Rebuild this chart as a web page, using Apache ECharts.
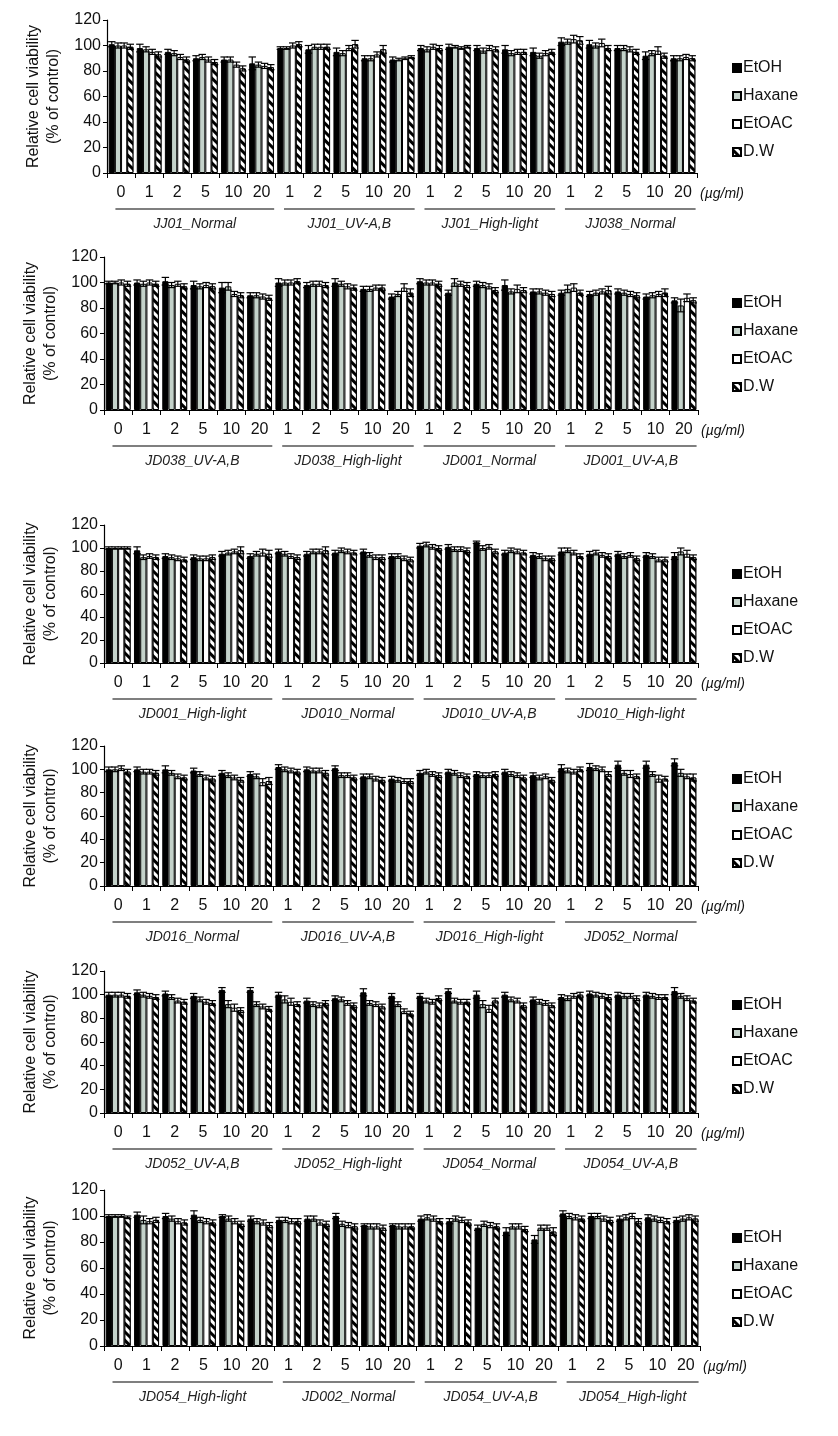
<!DOCTYPE html>
<html><head><meta charset="utf-8">
<script src="https://cdn.jsdelivr.net/npm/echarts@6/dist/echarts.min.js"></script>
<style>html,body{margin:0;padding:0;background:#fff}#c{width:838px;height:1436px}</style>
</head><body><div id="c"></div>
<script>
const doses = ['0','1','2','5','10','20','1','2','5','10','20','1','2','5','10','20','1','2','5','10','20'];
const seriesNames = ['EtOH','Haxane','EtOAC','D.W'];
const yTicks = [0,20,40,60,80,100,120];
const groupStart = [0,6,11,16];
const groupEnd = [5,10,15,20];

const groups1 = ['JJ01_Normal','JJ01_UV-A,B','JJ01_High-light','JJ038_Normal'];
const groups2 = ['JD038_UV-A,B','JD038_High-light','JD001_Normal','JD001_UV-A,B'];
const groups3 = ['JD001_High-light','JD010_Normal','JD010_UV-A,B','JD010_High-light'];
const groups4 = ['JD016_Normal','JD016_UV-A,B','JD016_High-light','JD052_Normal'];
const groups5 = ['JD052_UV-A,B','JD052_High-light','JD054_Normal','JD054_UV-A,B'];
const groups6 = ['JD054_High-light','JD002_Normal','JD054_UV-A,B','JD054_High-light'];

// Panel 1
const p1_EtOH  = [101,98,95,90,89,86, 98,97,95,90,89, 98,99,98,97,95, 103,101,98,92,90];
const p1_Hax   = [100,97,94,91,89,85, 98,99,94,90,89, 97,99,96,94,92, 103,100,98,94,90];
const p1_EtOAC = [100,95,91,89,85,84, 100,99,98,93,90, 99,98,98,95,94, 105,102,97,96,91];
const p1_DW    = [99,93,89,87,82,83, 101,99,101,97,91, 98,99,97,95,95, 104,98,95,92,90];
const p1_errEtOH  = [2,3,2,2,2,5, 1,3,3,2,2, 2,2,2,3,3, 3,3,2,3,2];
const p1_errHax   = [2,2,2,2,2,2, 1,2,2,2,1, 2,1,2,2,2, 2,2,2,2,2];
const p1_errEtOAC = [2,2,2,2,2,2, 2,2,2,2,1, 2,1,2,2,2, 3,3,2,3,2];
const p1_errDW    = [2,2,2,2,2,2, 2,2,3,3,1, 2,1,2,2,2, 3,2,2,2,2];
// Panel 2
const p2_EtOH  = [100,100,101,98,96,90, 100,98,100,95,89, 101,92,99,98,93, 92,91,93,89,86];
const p2_Hax   = [100,99,98,97,97,90, 100,99,99,95,91, 100,100,98,93,93, 95,92,92,90,82];
const p2_EtOAC = [100,100,99,98,91,89, 100,99,97,96,96, 100,99,97,95,92, 96,93,91,91,88];
const p2_DW    = [99,99,97,97,90,88, 101,98,96,96,92, 99,98,94,94,91, 92,94,90,92,86];
const p2_errEtOH  = [1,2,3,3,4,2, 3,2,3,2,2, 2,2,2,4,2, 2,2,2,2,2];
const p2_errHax   = [1,2,2,2,3,2, 2,2,2,2,2, 2,3,2,2,2, 3,2,2,2,5];
const p2_errEtOAC = [2,2,2,2,2,2, 2,2,2,2,3, 2,2,2,3,2, 3,2,2,2,3];
const p2_errDW    = [2,2,2,2,2,2, 2,2,2,2,3, 2,2,2,2,2, 2,3,2,3,2];
// Panel 3
const p3_EtOH  = [100,98,93,92,95,93, 97,95,96,97,93, 102,101,105,96,94, 97,95,95,94,93];
const p3_Hax   = [100,92,92,91,96,95, 95,97,98,94,93, 103,99,100,98,93, 98,96,93,93,97];
const p3_EtOAC = [100,93,91,91,97,96, 93,97,97,92,91, 101,99,101,97,91, 96,94,94,90,95];
const p3_DW    = [100,92,90,92,98,95, 92,98,96,92,90, 100,98,97,96,91, 93,93,91,90,92];
const p3_errEtOH  = [1,3,2,2,2,2, 2,2,2,2,2, 2,2,1,2,2, 3,2,2,2,3];
const p3_errHax   = [1,2,2,2,2,2, 2,2,2,2,2, 2,2,2,2,2, 2,2,2,2,3];
const p3_errEtOAC = [1,2,2,2,2,3, 2,2,2,2,2, 2,2,2,2,2, 2,2,2,2,3];
const p3_errDW    = [1,2,2,2,3,3, 2,3,2,2,2, 2,2,2,2,2, 2,2,2,2,2];
// Panel 4
const p4_EtOH  = [100,100,100,99,97,96, 102,100,101,94,92, 97,98,96,98,95, 101,102,104,104,106];
const p4_Hax   = [100,98,97,96,95,94, 100,99,95,94,91, 98,97,95,96,93, 99,101,97,96,97];
const p4_EtOAC = [101,98,94,93,93,89, 99,99,95,92,90, 96,95,95,95,94, 98,100,96,92,94];
const p4_DW    = [98,97,93,92,91,90, 98,97,93,91,90, 95,94,96,93,91, 100,96,94,92,93];
const p4_errEtOH  = [2,2,3,2,2,2, 2,2,2,2,2, 2,2,2,2,2, 3,3,3,3,3];
const p4_errHax   = [2,2,2,2,2,2, 2,2,2,2,2, 2,2,2,2,2, 2,2,2,2,3];
const p4_errEtOAC = [2,2,2,2,2,3, 2,2,2,2,2, 2,2,2,2,2, 2,2,3,3,2];
const p4_errDW    = [2,2,2,2,2,3, 2,2,2,2,2, 2,2,2,2,2, 2,2,2,2,3];
// Panel 5
const p5_EtOH  = [100,102,101,99,104,104, 100,95,97,102,99, 99,103,100,100,96, 98,101,100,100,103];
const p5_Hax   = [100,100,98,96,92,92, 96,92,96,93,92, 95,95,92,96,94, 97,100,99,99,99];
const p5_EtOAC = [100,99,95,94,89,90, 94,91,93,92,86, 94,94,88,95,93, 99,99,99,98,97];
const p5_DW    = [99,98,94,93,87,88, 92,93,91,90,84, 97,94,95,91,91, 100,98,97,98,95];
const p5_errEtOH  = [2,2,2,2,2,2, 2,2,2,3,2, 2,2,3,2,2, 2,2,2,2,3];
const p5_errHax   = [2,2,2,2,3,2, 3,2,2,2,2, 2,2,3,2,2, 2,2,2,2,2];
const p5_errEtOAC = [2,2,2,2,3,2, 3,2,2,2,2, 2,2,3,2,2, 2,2,2,2,2];
const p5_errDW    = [2,2,2,2,2,2, 2,2,2,2,2, 2,2,2,2,2, 2,2,2,2,2];
// Panel 6
const p6_EtOH  = [100,101,100,101,100,98, 97,98,100,93,93, 98,96,91,88,82, 102,100,98,99,97];
const p6_Hax   = [100,97,98,97,98,96, 97,98,94,92,92, 99,98,94,92,91, 100,100,99,98,98];
const p6_EtOAC = [100,96,96,96,96,95, 96,95,93,92,92, 98,97,93,92,91, 99,98,100,97,99];
const p6_DW    = [99,97,95,95,94,93, 96,94,92,91,92, 96,95,92,90,88, 98,97,96,96,98];
const p6_errEtOH  = [1,2,2,3,1,2, 2,2,2,1,1, 2,2,2,3,3, 2,2,2,2,2];
const p6_errHax   = [1,3,2,2,2,2, 2,2,2,2,2, 2,2,2,2,2, 2,2,2,2,2];
const p6_errEtOAC = [1,2,2,2,2,2, 2,2,2,2,2, 2,2,2,2,2, 2,2,2,2,2];
const p6_errDW    = [1,2,2,2,2,2, 2,2,2,2,2, 2,2,2,2,3, 2,2,2,2,2];

const panels = [
  {groups: groups1, vals: [p1_EtOH,p1_Hax,p1_EtOAC,p1_DW], errs: [p1_errEtOH,p1_errHax,p1_errEtOAC,p1_errDW]},
  {groups: groups2, vals: [p2_EtOH,p2_Hax,p2_EtOAC,p2_DW], errs: [p2_errEtOH,p2_errHax,p2_errEtOAC,p2_errDW]},
  {groups: groups3, vals: [p3_EtOH,p3_Hax,p3_EtOAC,p3_DW], errs: [p3_errEtOH,p3_errHax,p3_errEtOAC,p3_errDW]},
  {groups: groups4, vals: [p4_EtOH,p4_Hax,p4_EtOAC,p4_DW], errs: [p4_errEtOH,p4_errHax,p4_errEtOAC,p4_errDW]},
  {groups: groups5, vals: [p5_EtOH,p5_Hax,p5_EtOAC,p5_DW], errs: [p5_errEtOH,p5_errHax,p5_errEtOAC,p5_errDW]},
  {groups: groups6, vals: [p6_EtOH,p6_Hax,p6_EtOAC,p6_DW], errs: [p6_errEtOH,p6_errHax,p6_errEtOAC,p6_errDW]}
];

// layout
const gridTop = [20, 257, 525, 746, 971, 1190];
const gridH = [153, 153, 138, 140, 142, 156];
const gridLeft = [107, 104, 104, 104, 104, 104];
const gridRight = [141, 140, 140, 140, 140, 138];
const legendTop = [55, 290, 561, 766, 992, 1225];
const FONT = 'Liberation Sans, Arial, sans-serif';
const CAT_GAP = 0.12;

const styles = [
  {color:'#000', borderColor:'#000', borderWidth:1},
  {color:'#c4d2ca', borderColor:'#000', borderWidth:1},
  {color:'#fff', borderColor:'#000', borderWidth:1},
  {color:'#fff', borderColor:'#000', borderWidth:1,
   decal:{symbol:'rect', symbolSize:1, color:'#000', backgroundColor:'#fff', dashArrayX:[1,0], dashArrayY:[3,3], rotation:Math.PI/4}}
];

function errRender(si){
  return function(params, api){
    const x = api.value(0), v = api.value(1), e = api.value(2);
    const cw = api.size([1,0])[0];
    const bw = cw*(1-CAT_GAP)/4;
    const c = api.coord([x, v]);
    const cx = c[0] - cw*(1-CAT_GAP)/2 + bw*(si+0.5);
    const top = api.coord([x, v+e])[1];
    const bot = api.coord([x, v-e])[1];
    const h = bw*0.6;
    const st = {stroke:'#000', lineWidth:1.2};
    return {type:'group', children:[
      {type:'line', shape:{x1:cx,y1:top,x2:cx,y2:bot}, style:st},
      {type:'line', shape:{x1:cx-h,y1:top,x2:cx+h,y2:top}, style:st},
      {type:'line', shape:{x1:cx-h,y1:bot,x2:cx+h,y2:bot}, style:st}
    ]};
  };
}
function groupRender(params, api){
  const s = api.value(0), e = api.value(1);
  const cw = api.size([1,0])[0];
  const p0 = api.coord([s, 0]);
  const p1 = api.coord([e, 0]);
  const x1 = p0[0] - cw*0.2, x2 = p1[0] + cw*0.45;
  const y = p0[1];
  return {type:'group', children:[
    {type:'line', shape:{x1:x1,y1:y+36,x2:x2,y2:y+36}, style:{stroke:'#555', lineWidth:1.6}},
    {type:'text', style:{text: api.value(2), x:(x1+x2)/2, y:y+51, align:'center', verticalAlign:'middle',
      font:'italic 14px ' + FONT, fill:'#222'}}
  ]};
}

const option = {animation:false, backgroundColor:'#fff', grid:[], xAxis:[], yAxis:[], series:[], legend:[]};
panels.forEach((p, i) => {
  option.grid.push({left: gridLeft[i], right: gridRight[i], top: gridTop[i], height: gridH[i]});
  option.xAxis.push({type:'category', gridIndex:i, data:doses,
    axisLine:{lineStyle:{color:'#000', width:1.2}},
    axisTick:{show:true, interval:0, length:5, lineStyle:{color:'#000'}},
    axisLabel:{interval:0, fontSize:16, color:'#111', margin:12, fontFamily:FONT},
    name:'(\u00b5g/ml)', nameLocation:'end', nameGap:3,
    nameTextStyle:{fontStyle:'italic', fontSize:14, color:'#111', fontFamily:FONT, verticalAlign:'top', padding:[14,0,0,0]}
  });
  option.yAxis.push({type:'value', gridIndex:i, min:0, max:120, interval:20,
    axisLine:{show:true, lineStyle:{color:'#000', width:1.2}},
    axisTick:{show:true, length:4, lineStyle:{color:'#000'}},
    splitLine:{show:false},
    axisLabel:{fontSize:16, color:'#111', margin:6, fontFamily:FONT, formatter: v => yTicks.includes(v) ? String(v) : ''},
    name:'Relative cell viability\n(% of control)', nameLocation:'middle', nameGap:42,
    nameTextStyle:{fontSize:16, color:'#111', fontFamily:FONT, lineHeight:20}
  });
  seriesNames.forEach((sn, si) => {
    option.series.push({type:'bar', name:sn, xAxisIndex:i, yAxisIndex:i, data:p.vals[si],
      barGap:'0%', barCategoryGap:(CAT_GAP*100)+'%', itemStyle:styles[si], z:2});
  });
  seriesNames.forEach((sn, si) => {
    option.series.push({type:'custom', name:'err_'+sn, xAxisIndex:i, yAxisIndex:i, z:4, clip:false,
      renderItem: errRender(si), encode:{x:0, y:1},
      data: p.vals[si].map((v, k) => [k, v, p.errs[si][k]])});
  });
  option.series.push({type:'custom', name:'groups', xAxisIndex:i, yAxisIndex:i, z:4, clip:false,
    renderItem: groupRender, encode:{x:0, y:-1}, silent:true,
    data: p.groups.map((g, k) => [groupStart[k], groupEnd[k], g])});
  option.legend.push({orient:'vertical', left:727, top:legendTop[i], itemWidth:8, itemHeight:8, itemGap:12,
    icon:'rect', data:seriesNames, textStyle:{fontSize:16, color:'#111', fontFamily:FONT, padding:[0,0,0,-3]}});
});

const chart = echarts.init(document.getElementById('c'), null, {renderer:'canvas'});
chart.setOption(option);
</script></body></html>
